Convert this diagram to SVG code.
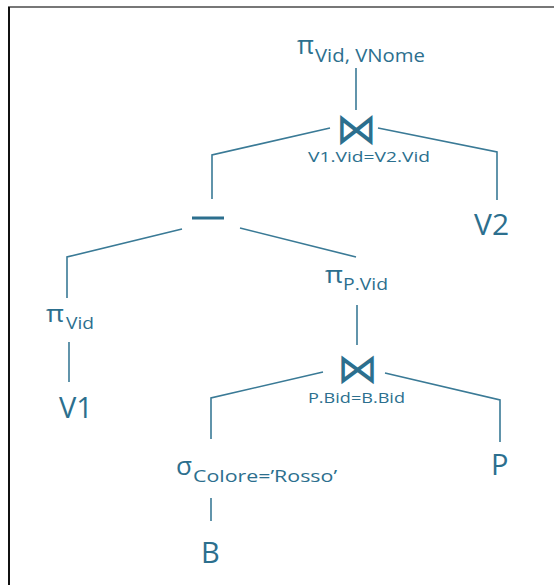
<svg xmlns="http://www.w3.org/2000/svg" width="554" height="585" viewBox="0 0 554 585">
<style>
.t{font-family:"Open Sans","Noto Sans",sans-serif;fill:#2c6f8e}
.j{font-family:"DejaVu Sans",sans-serif;fill:#2c6f8e}
.c line,.c polyline{stroke:#3a7a96;stroke-width:1.6;fill:none}
</style>
<rect width="554" height="585" fill="#fff"/>
<line x1="8" y1="7" x2="554" y2="7" stroke="#777" stroke-width="2"/>
<line x1="9" y1="7" x2="9" y2="585" stroke="#111" stroke-width="2"/>
<g class="c" id="connectors">
<line x1="356" y1="68" x2="356" y2="110"/>
<polyline points="330,128 212,155 212,199"/>
<polyline points="378,128 497,152 497,200"/>
<polyline points="182,229 67,257 67,298"/>
<line x1="240" y1="228" x2="356" y2="257"/>
<line x1="357" y1="305" x2="357" y2="345"/>
<polyline points="323,372 211,398 211,439"/>
<polyline points="385,373 500,400 500,442"/>
<line x1="69" y1="342" x2="69" y2="382"/>
<line x1="211" y1="498" x2="211" y2="521"/>
</g>
<g id="proj-top"><text class="t" x="297" y="54" font-size="25" textLength="17" lengthAdjust="spacingAndGlyphs">π</text><text class="t" x="315" y="62" font-size="19" textLength="110" lengthAdjust="spacingAndGlyphs">Vid, VNome</text></g>
<g id="join-top"><text class="j" x="336" y="144" font-size="44" textLength="41" lengthAdjust="spacingAndGlyphs">⋈</text><text class="t" x="308" y="162" font-size="14" textLength="122" lengthAdjust="spacingAndGlyphs">V1.Vid=V2.Vid</text></g>
<g id="v2"><text class="t" x="474" y="235" font-size="30">V2</text></g>
<g id="minus"><rect x="192" y="216.5" width="32" height="3" fill="#2c6f8e"/></g>
<g id="proj-vid"><text class="t" x="46" y="322" font-size="24" textLength="18" lengthAdjust="spacingAndGlyphs">π</text><text class="t" x="66" y="329" font-size="17" textLength="28" lengthAdjust="spacingAndGlyphs">Vid</text></g>
<g id="v1"><text class="t" x="59" y="418" font-size="29">V1</text></g>
<g id="proj-pvid"><text class="t" x="325" y="283" font-size="24" textLength="18" lengthAdjust="spacingAndGlyphs">π</text><text class="t" x="343" y="290" font-size="17" textLength="45" lengthAdjust="spacingAndGlyphs">P.Vid</text></g>
<g id="join-bot"><text class="j" x="337" y="383" font-size="42" textLength="41" lengthAdjust="spacingAndGlyphs">⋈</text><text class="t" x="308" y="403" font-size="14" textLength="97" lengthAdjust="spacingAndGlyphs">P.Bid=B.Bid</text></g>
<g id="select"><text class="t" x="176" y="475" font-size="26" textLength="16" lengthAdjust="spacingAndGlyphs">σ</text><text class="t" x="193" y="482" font-size="17" textLength="144" lengthAdjust="spacingAndGlyphs">Colore=’Rosso’</text></g>
<g id="p"><text class="t" x="491" y="475" font-size="29">P</text></g>
<g id="b"><text class="t" x="201" y="563" font-size="29">B</text></g>
</svg>
